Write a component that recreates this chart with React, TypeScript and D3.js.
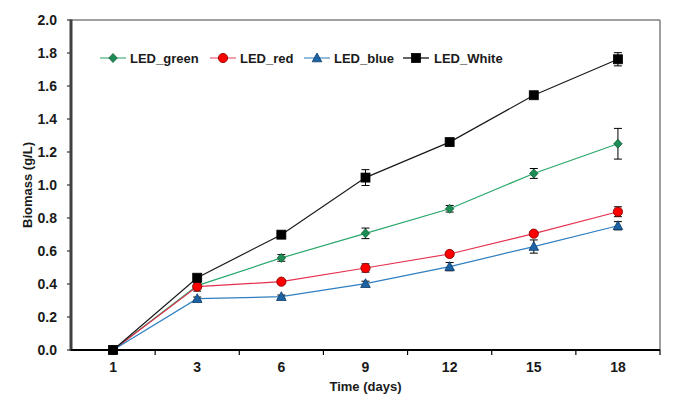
import React from "react";
import * as d3 from "d3";

const categories = ["1", "3", "6", "9", "12", "15", "18"];
const greenValues = [0, 0.39, 0.558, 0.707, 0.856, 1.07, 1.25];
const greenErrors = [0, 0.015, 0.02, 0.032, 0.02, 0.03, 0.093];
const redValues = [0, 0.384, 0.414, 0.497, 0.582, 0.705, 0.838];
const redErrors = [0, 0.027, 0.01, 0.025, 0.012, 0.012, 0.03];
const blueValues = [0, 0.311, 0.323, 0.402, 0.505, 0.627, 0.753];
const blueErrors = [0, 0.01, 0.01, 0.015, 0.025, 0.04, 0.025];
const whiteValues = [0, 0.438, 0.699, 1.045, 1.26, 1.544, 1.762];
const whiteErrors = [0, 0.01, 0.01, 0.048, 0.01, 0.01, 0.04];
const yTicks = [0, 0.2, 0.4, 0.6, 0.8, 1.0, 1.2, 1.4, 1.6, 1.8, 2.0];

type Shape = "diamond" | "circle" | "triangle" | "square";
const series = [
  { name: "LED_green", values: greenValues, errors: greenErrors, line: "#2aa86a", legendLine: "#6cbf95", fill: "#1e8c55", stroke: "#0e5a32", shape: "diamond" as Shape },
  { name: "LED_red", values: redValues, errors: redErrors, line: "#e5304f", legendLine: "#ec7e92", fill: "#ff0000", stroke: "#8a0000", shape: "circle" as Shape },
  { name: "LED_blue", values: blueValues, errors: blueErrors, line: "#2f7fc0", legendLine: "#6fa4cf", fill: "#1c63a6", stroke: "#0d3a66", shape: "triangle" as Shape },
  { name: "LED_White", values: whiteValues, errors: whiteErrors, line: "#1a1a1a", legendLine: "#333333", fill: "#000000", stroke: "#000000", shape: "square" as Shape },
];

const FONT = "'Liberation Sans', Arial, sans-serif";

function Marker({ shape, x, y, fill, stroke }: { shape: Shape; x: number; y: number; fill: string; stroke: string }) {
  if (shape === "square") return <rect x={x - 4.5} y={y - 4.5} width={9} height={9} fill={fill} stroke={stroke} strokeWidth={0.8} />;
  if (shape === "circle") return <circle cx={x} cy={y} r={4.6} fill={fill} stroke={stroke} strokeWidth={0.9} />;
  if (shape === "diamond")
    return <path d={`M${x},${y - 4.5}L${x + 4.2},${y}L${x},${y + 4.5}L${x - 4.2},${y}Z`} fill={fill} stroke={stroke} strokeWidth={0.8} />;
  return <path d={`M${x},${y - 5}L${x + 4.8},${y + 3.8}L${x - 4.8},${y + 3.8}Z`} fill={fill} stroke={stroke} strokeWidth={0.8} />;
}

export default function App() {
  const W = 677, H = 412;
  const left = 71, right = 660, top = 20, bottom = 350;
  const x = d3.scaleBand<string>().domain(categories).range([left, right]);
  const y = d3.scaleLinear().domain([0, 2]).range([bottom, top]);
  const cx = (c: string) => (x(c) as number) + x.bandwidth() / 2;
  const line = d3.line<number>().x((_, i) => cx(categories[i])).y((v) => y(v));
  const boundaries = categories.map((c) => (x(c) as number) + x.bandwidth());

  const legendItems = [
    { s: series[0], lx: 100, tx: 130 },
    { s: series[1], lx: 210, tx: 240 },
    { s: series[2], lx: 304, tx: 334 },
    { s: series[3], lx: 403, tx: 434 },
  ];

  return (
    <svg width={W} height={H} style={{ position: "absolute", left: 0, top: 0, background: "#fff" }} fontFamily={FONT}>
      <rect width={W} height={H} fill="#fff" />
      {/* frame */}
      <line x1={left} y1={top} x2={right} y2={top} stroke="#808080" strokeWidth={1.5} />
      <line x1={right} y1={top} x2={right} y2={bottom} stroke="#808080" strokeWidth={1.5} />
      {/* y axis */}
      {yTicks.map((t) => (
        <g key={t}>
          <line x1={left - 4} x2={left} y1={y(t)} y2={y(t)} stroke="#333" strokeWidth={1.2} />
          <text x={57} y={y(t)} dy="0.36em" textAnchor="end" fontSize={14} fontWeight="bold" fill="#1a1a1a">
            {t.toFixed(1)}
          </text>
        </g>
      ))}
      <line x1={left} y1={top - 0.5} x2={left} y2={bottom + 1} stroke="#404040" strokeWidth={3} />
      {/* x axis */}
      <line x1={left} y1={bottom} x2={right} y2={bottom} stroke="#000" strokeWidth={2} />
      {boundaries.map((b, i) => (
        <line key={i} x1={b} x2={b} y1={bottom} y2={bottom + 5} stroke="#000" strokeWidth={1.2} />
      ))}
      {categories.map((c) => (
        <text key={c} x={cx(c)} y={372} textAnchor="middle" fontSize={14} fontWeight="bold" fill="#1a1a1a">
          {c}
        </text>
      ))}
      <text x={(left + right) / 2} y={391} textAnchor="middle" fontSize={13} fontWeight="bold" fill="#1a1a1a">
        Time (days)
      </text>
      <text transform={`translate(32,${(top + bottom) / 2}) rotate(-90)`} textAnchor="middle" fontSize={13} fontWeight="bold" fill="#1a1a1a">
        Biomass (g/L)
      </text>
      {/* series */}
      {series.map((s) => (
        <g key={s.name}>
          <path d={line(s.values) || ""} fill="none" stroke={s.line} strokeWidth={1.2} />
          {s.values.map((v, i) =>
            s.errors[i] > 0 ? (
              <g key={i} stroke="#000" strokeWidth={1}>
                <line x1={cx(categories[i])} x2={cx(categories[i])} y1={y(v + s.errors[i])} y2={y(v - s.errors[i])} />
                <line x1={cx(categories[i]) - 4} x2={cx(categories[i]) + 4} y1={y(v + s.errors[i])} y2={y(v + s.errors[i])} />
                <line x1={cx(categories[i]) - 4} x2={cx(categories[i]) + 4} y1={y(v - s.errors[i])} y2={y(v - s.errors[i])} />
              </g>
            ) : null
          )}
          {s.values.map((v, i) => (
            <Marker key={i} shape={s.shape} x={cx(categories[i])} y={y(v)} fill={s.fill} stroke={s.stroke} />
          ))}
        </g>
      ))}
      {/* legend */}
      {legendItems.map(({ s, lx, tx }) => (
        <g key={s.name}>
          <line x1={lx} x2={lx + 26} y1={58} y2={58} stroke={s.legendLine} strokeWidth={1.5} />
          <Marker shape={s.shape} x={lx + 13} y={58} fill={s.fill} stroke={s.stroke} />
          <text x={tx} y={58} dy="0.36em" fontSize={13} fontWeight="bold" fill="#1a1a1a">
            {s.name}
          </text>
        </g>
      ))}
    </svg>
  );
}
